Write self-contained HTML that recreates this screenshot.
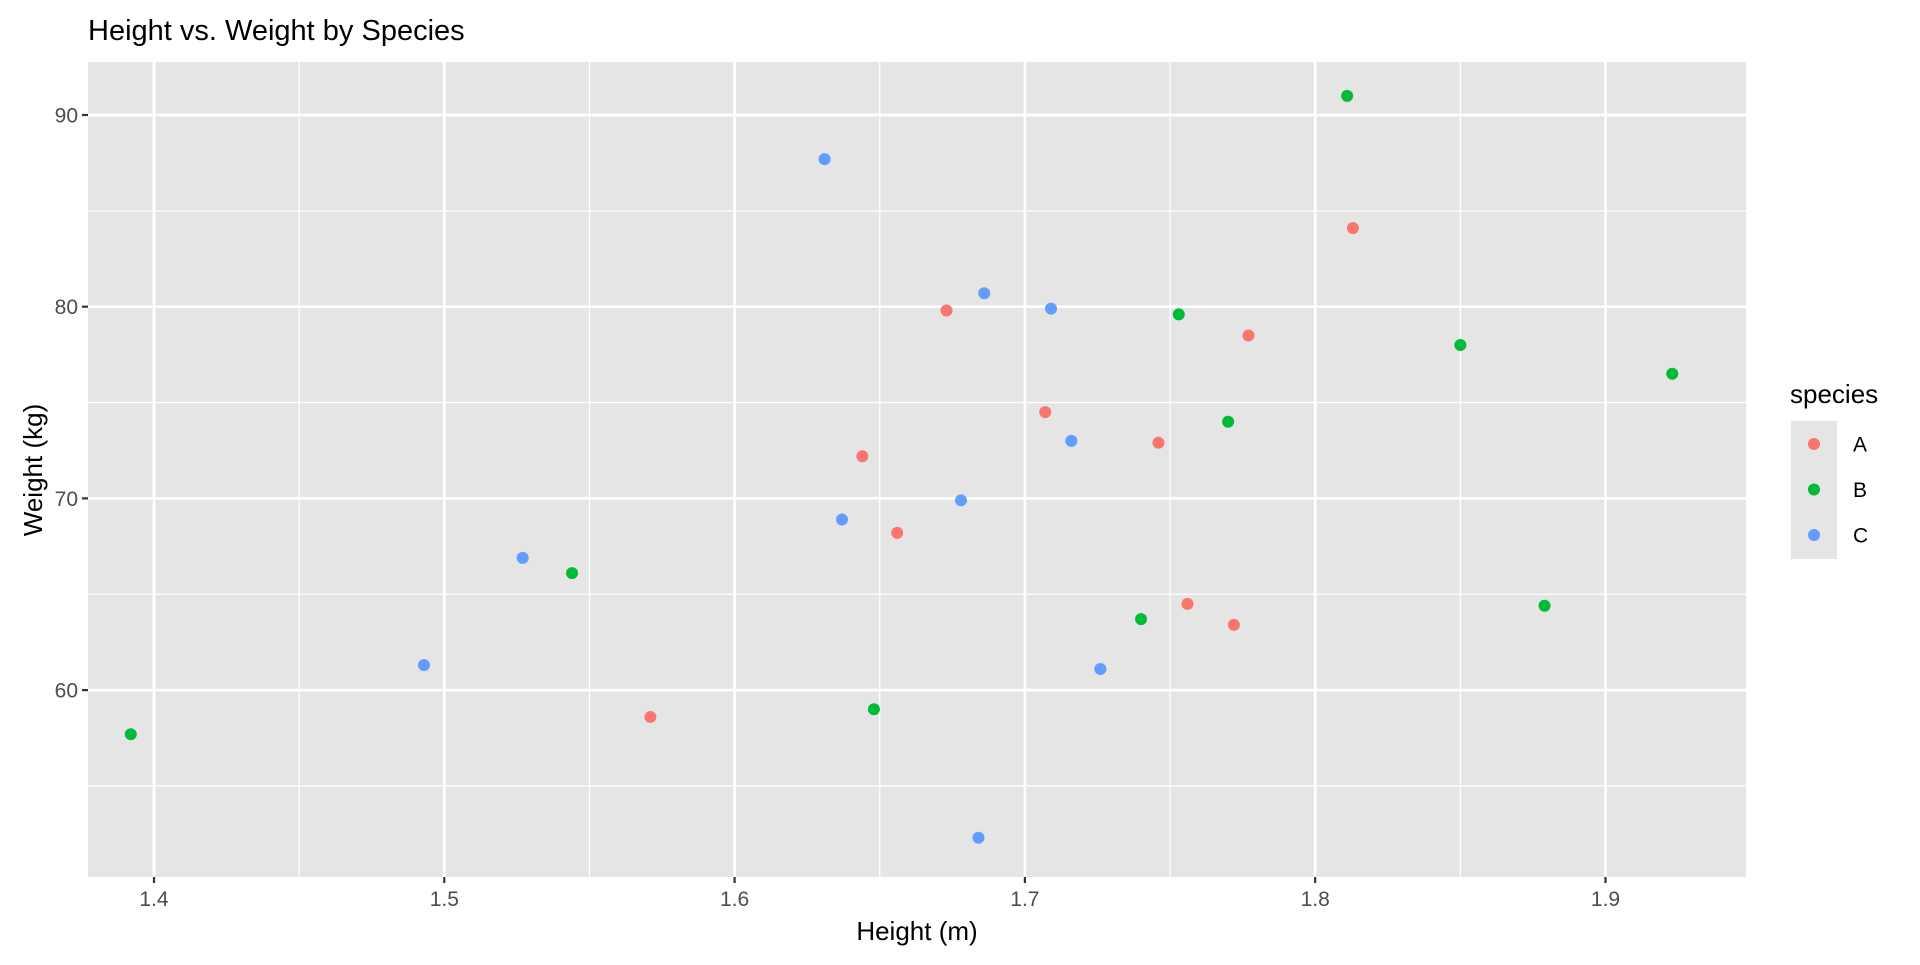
<!DOCTYPE html>
<html><head><meta charset="utf-8"><style>
html,body{margin:0;padding:0;background:#fff;}
text{font-family:"Liberation Sans",Arial,sans-serif;}
</style></head><body>
<svg id="chart" width="1920" height="960" xmlns="http://www.w3.org/2000/svg">
<text x="88" y="40" font-size="29" fill="#000">Height vs. Weight by Species</text>
<rect x="88" y="62" width="1658" height="815" fill="#e5e5e5"/>
<g id="grid"></g>
<g id="points"></g>
<g id="axes"></g>
<text x="917" y="940" font-size="26" text-anchor="middle" fill="#000">Height (m)</text>
<text transform="translate(42,470) rotate(-90)" font-size="26" text-anchor="middle" fill="#000">Weight (kg)</text>
<g>
<text x="1790" y="403" font-size="26" fill="#000">species</text>
<rect x="1791" y="421" width="46" height="138" fill="#e5e5e5"/>
<g id="legend-items"></g>
</g>
</svg>
<script>
const categoriesSpecies = ['A','B','C'];
const colors = ['#F8766D','#00BA38','#619CFF'];
const heightA = [1.813,1.777,1.673,1.707,1.746,1.644,1.656,1.756,1.772,1.571];
const weightA = [84.1,78.5,79.8,74.5,72.9,72.2,68.2,64.5,63.4,58.6];
const heightB = [1.811,1.753,1.850,1.923,1.770,1.544,1.740,1.879,1.648,1.392];
const weightB = [91.0,79.6,78.0,76.5,74.0,66.1,63.7,64.4,59.0,57.7];
const heightC = [1.631,1.686,1.709,1.716,1.678,1.637,1.527,1.493,1.726,1.684];
const weightC = [87.7,80.7,79.9,73.0,69.9,68.9,66.9,61.3,61.1,52.3];
const xTicks = [1.4,1.5,1.6,1.7,1.8,1.9];
const xMinor = [1.45,1.55,1.65,1.75,1.85];
const yTicks = [60,70,80,90];
const yMinor = [55,65,75,85];

const NS='http://www.w3.org/2000/svg';
const L=88,R=1746,T=62,B=877;
function sx(v){return 154+(v-1.4)*2903;}
function sy(v){return 115+(90-v)*19.17;}
function mk(tag,attrs,parent){const e=document.createElementNS(NS,tag);for(const k in attrs)e.setAttribute(k,attrs[k]);parent.appendChild(e);return e;}
const grid=document.getElementById('grid'),axes=document.getElementById('axes'),pts=document.getElementById('points');
xMinor.forEach(v=>{const e=mk('line',{x1:sx(v),x2:sx(v),y1:T,y2:B,stroke:'#fff','stroke-width':1.3},grid);

});
yMinor.forEach(v=>{const e=mk('line',{x1:L,x2:R,y1:sy(v),y2:sy(v),stroke:'#fff','stroke-width':1.3},grid);

});
xTicks.forEach(v=>{const e=mk('line',{x1:sx(v),x2:sx(v),y1:T,y2:B,stroke:'#fff','stroke-width':2.7},grid);


const t=mk('line',{x1:sx(v),x2:sx(v),y1:B,y2:B+6,stroke:'#333','stroke-width':2.2},axes);


const l=mk('text',{x:sx(v),y:B+29,'font-size':21,'text-anchor':'middle',fill:'#4d4d4d'},axes);l.textContent=v.toFixed(1);

});
yTicks.forEach(v=>{const e=mk('line',{x1:L,x2:R,y1:sy(v),y2:sy(v),stroke:'#fff','stroke-width':2.7},grid);


const t=mk('line',{x1:L-6,x2:L,y1:sy(v),y2:sy(v),stroke:'#333','stroke-width':2.2},axes);


const l=mk('text',{x:L-10,y:sy(v)+7.5,'font-size':21,'text-anchor':'end',fill:'#4d4d4d'},axes);l.textContent=String(v);

});
const series=[[heightA,weightA],[heightB,weightB],[heightC,weightC]];
series.forEach((s,i)=>{s[0].forEach((h,j)=>{const c=mk('circle',{cx:sx(h),cy:sy(s[1][j]),r:6,fill:colors[i]},pts);

});});
const li=document.getElementById('legend-items');
categoriesSpecies.forEach((c,i)=>{const y=444+i*45.5;
const d=mk('circle',{cx:1814,cy:y,r:6,fill:colors[i]},li);


const t=mk('text',{x:1853,y:y+7.5,'font-size':21,fill:'#000'},li);t.textContent=c;

});
</script>
</body></html>
